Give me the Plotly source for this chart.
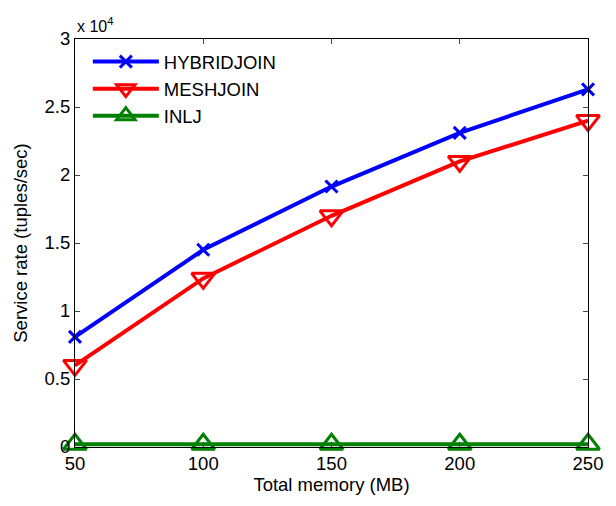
import plotly.graph_objects as go

memory = [50, 100, 150, 200, 250]
hybridjoin = [8100, 14500, 19150, 23100, 26300]
meshjoin = [6000, 12400, 17000, 21000, 24000]
inlj = [200, 200, 200, 200, 200]
y_tickvals = [0, 5000, 10000, 15000, 20000, 25000, 30000]
y_ticktext = ["0", "0.5", "1", "1.5", "2", "2.5", "3"]
x_tickvals = [50, 100, 150, 200, 250]

FONT = "Liberation Sans, Arial, sans-serif"
FS = 18.5

fig = go.Figure()
fig.add_trace(go.Scatter(x=memory, y=hybridjoin, name="HYBRIDJOIN", mode="lines+markers",
                         line=dict(color="rgb(0,0,255)", width=4),
                         marker=dict(symbol="x-thin", size=12, line=dict(color="rgb(0,0,255)", width=3)),
                         cliponaxis=False))
fig.add_trace(go.Scatter(x=memory, y=meshjoin, name="MESHJOIN", mode="lines+markers",
                         line=dict(color="rgb(255,0,0)", width=4),
                         marker=dict(symbol="triangle-down-open", size=20, line=dict(color="rgb(255,0,0)", width=3)),
                         cliponaxis=False))
fig.add_trace(go.Scatter(x=memory, y=inlj, name="INLJ", mode="lines+markers",
                         line=dict(color="rgb(0,128,0)", width=4),
                         marker=dict(symbol="triangle-up-open", size=20, line=dict(color="rgb(0,128,0)", width=3)),
                         cliponaxis=False))

fig.update_layout(
    width=616, height=506,
    margin=dict(l=75, r=28, t=39, b=59),
    paper_bgcolor="white", plot_bgcolor="white",
    font=dict(family=FONT, size=FS, color="black"),
    showlegend=True,
    legend=dict(x=0.025, y=0.99, xanchor="left", yanchor="top", bgcolor="rgba(255,255,255,0)",
                font=dict(size=FS), tracegroupgap=0, itemwidth=66),
    xaxis=dict(range=[50, 250], tickvals=x_tickvals, ticks="inside", ticklen=5,
               showline=True, linecolor="black", linewidth=1, mirror="ticks",
               showgrid=False, zeroline=False,
               title=dict(text="Total memory (MB)", font=dict(size=FS), standoff=4),
               tickfont=dict(size=FS)),
    yaxis=dict(range=[0, 30000], tickvals=y_tickvals, ticktext=y_ticktext, ticks="inside", ticklen=5,
               showline=True, linecolor="black", linewidth=1, mirror="ticks",
               showgrid=False, zeroline=False,
               title=dict(text="Service rate (tuples/sec)", font=dict(size=FS), standoff=12),
               tickfont=dict(size=FS)),
    annotations=[dict(text="x 10<sup>4</sup>", xref="paper", yref="paper", x=0.0, y=1.0,
                      xanchor="left", yanchor="bottom", yshift=2, showarrow=False,
                      font=dict(size=16, family=FONT))],
)
fig.write_html("out.html")
